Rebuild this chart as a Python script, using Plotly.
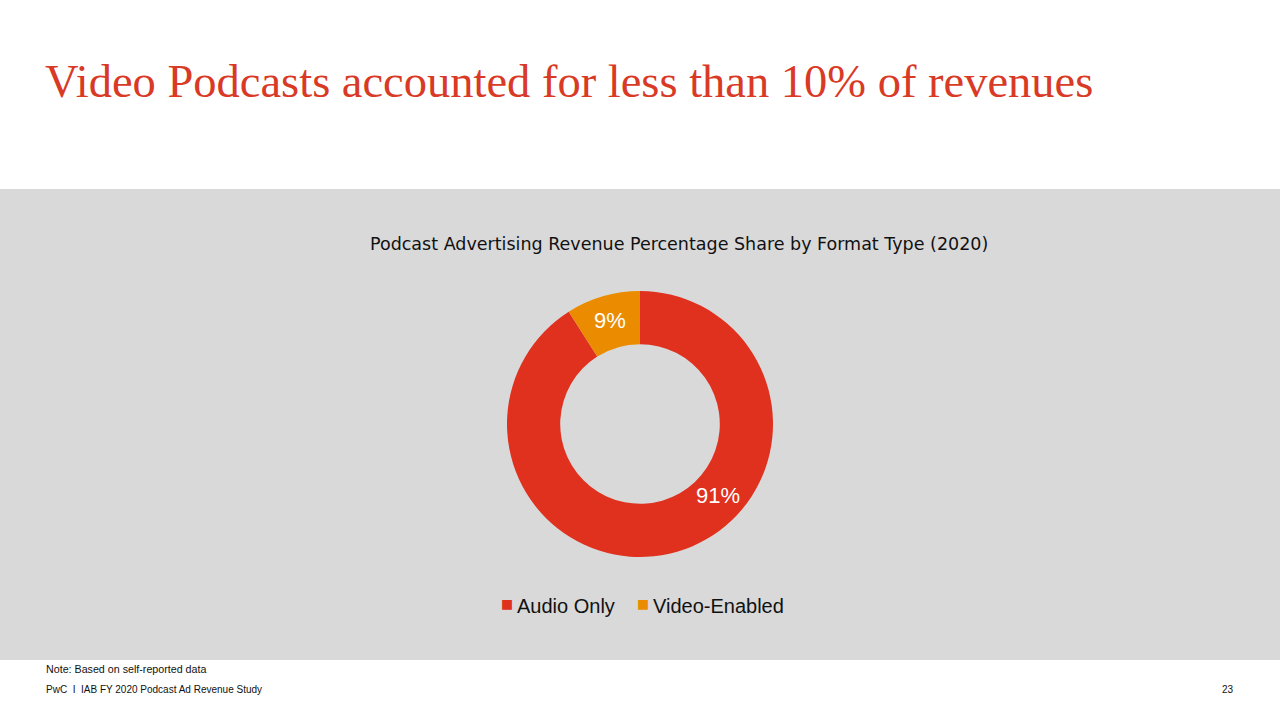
import plotly.graph_objects as go

categories = ["Audio Only", "Video-Enabled"]
shares = [91, 9]
colors = ["#E0301E", "#EB8C00"]

title_text = "Video Podcasts accounted for less than 10% of revenues"
chart_title = "Podcast Advertising Revenue Percentage Share by Format Type (2020)"
note_text = "Note: Based on self-reported data"
footer_text = "PwC  I  IAB FY 2020 Podcast Ad Revenue Study"
page_no = "23"

W, H = 1280, 720
SANS = "Liberation Sans, Arial, sans-serif"

fig = go.Figure()
fig.add_trace(go.Pie(
    labels=categories,
    values=shares,
    marker=dict(colors=colors, line=dict(width=0)),
    hole=0.6,
    sort=False,
    direction="clockwise",
    rotation=0,
    textinfo="none",
    hoverinfo="label+percent",
    showlegend=False,
    domain=dict(x=[0.3, 0.7], y=[1 - 557 / H, 1 - 291 / H]),
))

# grey panel
fig.add_shape(type="rect", xref="paper", yref="paper",
              x0=0, x1=1, y0=1 - 660 / H, y1=1 - 189 / H,
              fillcolor="#D9D9D9", line=dict(width=0), layer="below")

# slice labels
label_pos = [(718 / W, 1 - 495 / H), (610 / W, 1 - 320 / H)]
for (x, y), v in zip(label_pos, shares):
    fig.add_annotation(x=x, y=y, xref="paper", yref="paper", text=f"{v}%",
                       xanchor="center", yanchor="middle",
                       showarrow=False, font=dict(family=SANS, size=22, color="white"))

# legend (built from categories / colors)
legend_x = [502, 638]
for lx, lab, c in zip(legend_x, categories, colors):
    fig.add_annotation(x=(lx + 4.5) / W, y=1 - 603 / H, xref="paper", yref="paper",
                       xanchor="center", yanchor="middle", text="■", showarrow=False,
                       font=dict(family="DejaVu Sans", size=12.8, color=c))
    fig.add_annotation(x=(lx + 13) / W, y=1 - 606 / H, xref="paper", yref="paper",
                       xanchor="left", yanchor="middle", text=lab, showarrow=False,
                       font=dict(family=SANS, size=20, color="#111111"))

fig.add_annotation(x=43 / W, y=1 - 81 / H, xref="paper", yref="paper", xanchor="left", yanchor="middle",
                   text=title_text, showarrow=False,
                   font=dict(family="Liberation Serif, Georgia, serif", size=46.5, color="#D93A26"))
fig.add_annotation(x=679 / W, y=1 - 244 / H, xref="paper", yref="paper", xanchor="center", yanchor="middle",
                   text=chart_title, showarrow=False,
                   font=dict(family="DejaVu Sans, sans-serif", size=17.5, color="#111111"))
fig.add_annotation(x=44 / W, y=1 - 669 / H, xref="paper", yref="paper", xanchor="left", yanchor="middle",
                   text=note_text, showarrow=False,
                   font=dict(family=SANS, size=10.7, color="#111111"))
fig.add_annotation(x=44 / W, y=1 - 689 / H, xref="paper", yref="paper", xanchor="left", yanchor="middle",
                   text=footer_text, showarrow=False,
                   font=dict(family=SANS, size=10, color="#111111"))
fig.add_annotation(x=1236 / W, y=1 - 689 / H, xref="paper", yref="paper", xanchor="right", yanchor="middle",
                   text=page_no, showarrow=False,
                   font=dict(family=SANS, size=10, color="#111111"))

fig.update_layout(
    width=W, height=H,
    margin=dict(l=0, r=0, t=0, b=0),
    paper_bgcolor="white",
    plot_bgcolor="white",
    showlegend=False,
)

fig.write_html("out.html", config={"displayModeBar": False},
               post_script="document.body.style.margin='0';document.body.style.padding='0';")
